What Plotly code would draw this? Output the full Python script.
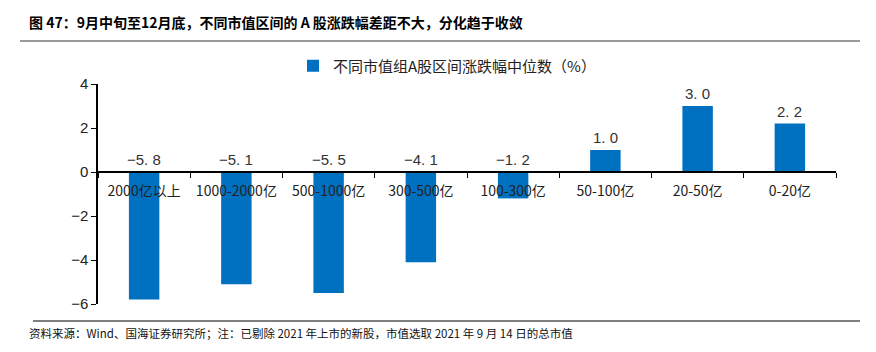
import plotly.graph_objects as go

categories = ["2000亿以上", "1000-2000亿", "500-1000亿", "300-500亿", "100-300亿", "50-100亿", "20-50亿", "0-20亿"]
values = [-5.8, -5.1, -5.5, -4.1, -1.2, 1.0, 3.0, 2.2]
series_name = "不同市值组A股区间涨跌幅中位数（%）"
y_ticks = [-6, -4, -2, 0, 2, 4]
title_text = "图 47：9月中旬至12月底，不同市值区间的 A 股涨跌幅差距不大，分化趋于收敛"
source_text = "资料来源：Wind、国海证券研究所；注：已剔除 2021 年上市的新股，市值选取 2021 年 9 月 14 日的总市值"

FONT = "Noto Sans CJK SC, Liberation Sans, Arial"
NUMFONT = "Liberation Sans, Arial"
W, H = 876, 352
ML, MR, MT, MB = 98, 40, 84, 48
y_range = [-6, 4]
plot_w = W - ML - MR
plot_h = H - MT - MB

def px_x(p):
    return (p - ML) / plot_w

def px_y(p):
    return (H - MB - p) / plot_h

fig = go.Figure()
fig.add_trace(go.Bar(
    x=categories, y=values, name=series_name,
    marker=dict(color="#0070C0", line=dict(width=0)),
    width=0.33, showlegend=True,
))

annotations = []
for c, v in zip(categories, values):
    annotations.append(dict(
        x=c, y=max(v, 0), xref="x", yref="y", text=f"{v:.1f}".replace(".", ". ").replace("-", "−"),
        showarrow=False, yanchor="bottom", yshift=2,
        font=dict(family=NUMFONT, size=15, color="#333333"),
    ))
annotations.append(dict(
    x=px_x(27), y=px_y(22), xref="paper", yref="paper", xanchor="left", yanchor="middle",
    text="<b>" + title_text + "</b>", showarrow=False,
    font=dict(family=FONT, size=14, color="#000000"),
))
annotations.append(dict(
    x=px_x(27), y=px_y(333), xref="paper", yref="paper", xanchor="left", yanchor="middle",
    text=source_text, showarrow=False,
    font=dict(family=FONT, size=11.5, color="#111111"),
))

zero_pos = (0 - y_range[0]) / (y_range[1] - y_range[0])

fig.update_layout(
    width=W, height=H,
    margin=dict(l=ML, r=MR, t=MT, b=MB),
    paper_bgcolor="white", plot_bgcolor="white",
    font=dict(family=FONT, size=13, color="#222222"),
    bargap=0.67,
    legend=dict(orientation="h", x=px_x(293), xanchor="left", y=px_y(66), yanchor="middle",
                font=dict(family=FONT, size=15, color="#222222"), itemwidth=30,
                bgcolor="rgba(0,0,0,0)"),
    xaxis=dict(
        anchor="free", position=zero_pos, showline=True, linecolor="#000000", linewidth=1.5,
        ticks="outside", ticklen=5, tickcolor="#000000", tickson="boundaries",
        ticklabelstandoff=6,
        showgrid=False, tickfont=dict(family=FONT, size=14, color="#222222"),
    ),
    yaxis=dict(
        range=y_range, tickvals=y_ticks, showline=True, linecolor="#000000", linewidth=1.5,
        ticks="outside", ticklen=5, tickcolor="#000000", showgrid=False, zeroline=False,
        tickfont=dict(family=NUMFONT, size=15, color="#222222"),
    ),
    annotations=annotations,
    shapes=[
        dict(type="line", xref="paper", yref="paper", x0=px_x(20), x1=px_x(860),
             y0=px_y(41), y1=px_y(41), line=dict(color="#777777", width=1.5)),
        dict(type="line", xref="paper", yref="paper", x0=px_x(33), x1=px_x(860),
             y0=px_y(321), y1=px_y(321), line=dict(color="#000000", width=1)),
    ],
)

fig.write_html("out.html")
